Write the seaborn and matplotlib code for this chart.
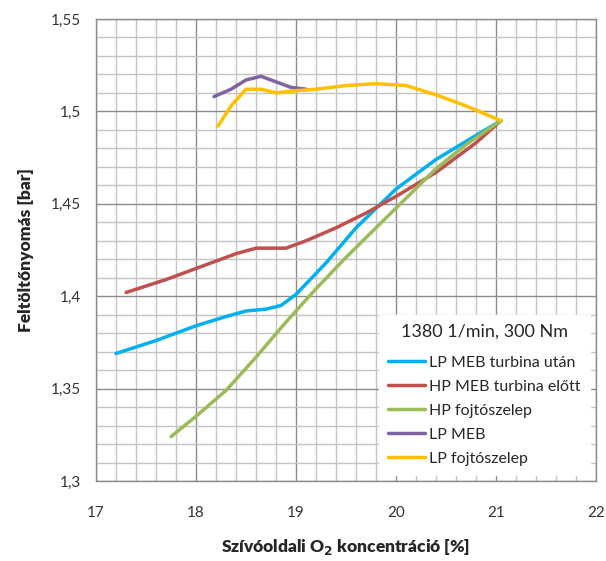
import numpy as np
import pandas as pd
import seaborn as sns
import matplotlib.pyplot as plt
from matplotlib.ticker import MultipleLocator, FuncFormatter

lp_meb_turb_x = [17.2, 17.6, 18.0, 18.3, 18.5, 18.7, 18.85, 19.0, 19.3, 19.6, 20.0, 20.4, 20.8, 21.05]
lp_meb_turb_y = [1.369, 1.376, 1.384, 1.389, 1.392, 1.393, 1.395, 1.401, 1.418, 1.437, 1.458, 1.474, 1.487, 1.495]

hp_meb_turb_x = [17.3, 17.7, 18.1, 18.4, 18.6, 18.75, 18.9, 19.1, 19.4, 19.7, 20.0, 20.4, 20.8, 21.05]
hp_meb_turb_y = [1.402, 1.409, 1.417, 1.423, 1.426, 1.426, 1.426, 1.430, 1.437, 1.445, 1.454, 1.467, 1.483, 1.495]

hp_fojto_x = [17.75, 18.0, 18.3, 18.6, 18.9, 19.2, 19.5, 19.8, 20.1, 20.4, 20.7, 21.05]
hp_fojto_y = [1.324, 1.335, 1.349, 1.367, 1.386, 1.404, 1.421, 1.437, 1.453, 1.469, 1.482, 1.495]

lp_meb_x = [18.18, 18.35, 18.5, 18.65, 18.8, 18.95, 19.1]
lp_meb_y = [1.508, 1.512, 1.517, 1.519, 1.516, 1.513, 1.512]

lp_fojto_x = [18.22, 18.35, 18.5, 18.65, 18.8, 18.95, 19.2, 19.5, 19.8, 20.1, 20.4, 20.7, 21.05]
lp_fojto_y = [1.492, 1.503, 1.512, 1.512, 1.510, 1.511, 1.512, 1.514, 1.515, 1.514, 1.509, 1.503, 1.495]

series_names = ["LP MEB turbina után", "HP MEB turbina előtt", "HP fojtószelep", "LP MEB", "LP fojtószelep"]
colors = ["#00B0F0", "#C0504D", "#9BBB59", "#8064A2", "#FFC000"]

frames = []
for name, xs, ys in zip(series_names,
                        [lp_meb_turb_x, hp_meb_turb_x, hp_fojto_x, lp_meb_x, lp_fojto_x],
                        [lp_meb_turb_y, hp_meb_turb_y, hp_fojto_y, lp_meb_y, lp_fojto_y]):
    frames.append(pd.DataFrame({"x": xs, "y": ys, "series": name}))
df = pd.concat(frames, ignore_index=True)

sns.set_style("white")
plt.rcParams["font.family"] = ["Lato", "DejaVu Sans"]

fig = plt.figure(figsize=(6.06, 5.61), dpi=100)
ax = fig.add_axes([96 / 606, 1 - 481 / 561, 500 / 606, 462 / 561])

sns.lineplot(data=df, x="x", y="y", hue="series", hue_order=series_names,
             palette=colors, sort=False, linewidth=2.5, ax=ax, legend=False)

ax.set_xlim(17, 22)
ax.set_ylim(1.3, 1.55)
ax.xaxis.set_major_locator(MultipleLocator(1))
ax.xaxis.set_minor_locator(MultipleLocator(0.2))
ax.yaxis.set_major_locator(MultipleLocator(0.05))
ax.yaxis.set_minor_locator(MultipleLocator(0.01))
ax.yaxis.set_major_formatter(FuncFormatter(lambda v, p: f"{v:.2f}".rstrip("0").rstrip(".").replace(".", ",")))

ax.grid(which="major", color="#8c8c8c", linewidth=1.0)
ax.grid(which="minor", color="#c4c4c4", linewidth=1.0)
ax.set_axisbelow(True)
for s in ax.spines.values():
    s.set_color("#8c8c8c")
    s.set_linewidth(1.0)

ax.tick_params(which="major", direction="out", length=5, color="#8c8c8c",
               labelsize=11, labelcolor="#333333", pad=6)
ax.tick_params(axis="x", which="major", pad=13)
ax.tick_params(which="minor", length=0)

ax.set_xlabel(r"Szívóoldali O$_\mathbf{2}$ koncentráció [%]", fontsize=12.5,
              fontweight="heavy", labelpad=12)
ax.set_ylabel("Feltöltőnyomás [bar]", fontsize=12.5, fontweight="heavy", labelpad=12)

handles = [plt.Line2D([], [], color=c, linewidth=2.5) for c in colors]
leg = ax.legend(handles, series_names, title="1380 1/min, 300 Nm", loc="lower right",
                bbox_to_anchor=(0.995, 0.005), frameon=True, fontsize=11.5,
                title_fontsize=13, handlelength=2.3, handletextpad=0.25,
                labelspacing=0.62, borderpad=0.6, borderaxespad=0.2, fancybox=False)
leg.get_frame().set_facecolor("white")
leg.get_frame().set_edgecolor("white")
leg.get_frame().set_alpha(1.0)
leg._legend_box.sep = 11

fig.savefig("out.png", dpi=100)
